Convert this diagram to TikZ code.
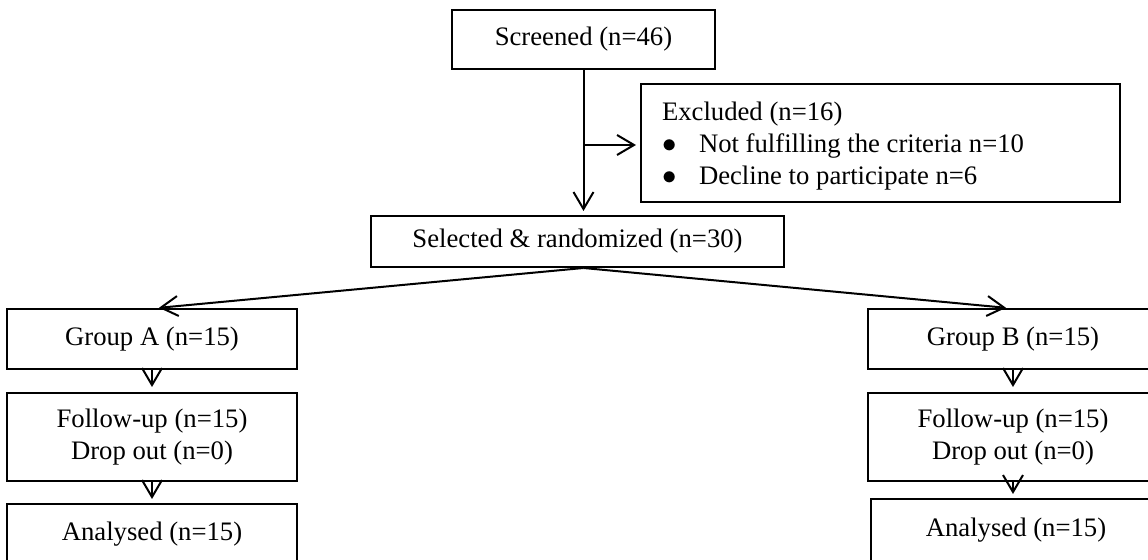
\documentclass[tikz,border=0pt]{standalone}
\usepackage{fontspec}
\setmainfont{Liberation Serif}
\usetikzlibrary{arrows.meta,calc}
\tikzset{
  box/.style={draw, line width=1pt, inner sep=0pt, align=center},
  arr/.style={line width=1pt, -{Straight Barb[length=8.5pt,width=10pt,line width=1pt]}},
}
\newcommand{\blt}{\makebox[18.5pt][l]{\hspace{0.3pt}$\bullet$}}
\begin{document}
\begin{tikzpicture}[x=0.5pt, y=-0.5pt, font=\fontsize{13.35pt}{16.2pt}\selectfont]
\useasboundingbox (0,0) rectangle (1148,560);
\clip (0,0) rectangle (1148,560);
\fill[white] (0,0) rectangle (1148,560);

\node[box, minimum width=131.5pt, minimum height=29.5pt] (scr) at (583.5,39.5) {Screened (n=46)};
\node[box, minimum height=59pt, inner xsep=10.5pt, text width=218.5pt, align=left] (exc) at (880.5,143)
  {\spaceskip=0pt\xspaceskip=0pt\relax\rule{0pt}{12.3pt}Excluded (n=16)\\
   \blt Not fulfilling the criteria n=10\\
   \blt Decline to participate n=6};
\node[box, minimum width=206.5pt, minimum height=25.5pt] (sel) at (577.5,241.5) {Selected \& randomized (n=30)};

\node[box, minimum width=145pt, minimum height=30pt] (ga) at (152,339) {Group A (n=15)};
\node[box, minimum width=145pt, minimum height=44pt] (fa) at (152,437) {Follow-up (n=15)\\Drop out (n=0)};
\node[box, minimum width=145pt, minimum height=30pt] (aa) at (152,534) {Analysed (n=15)};

\node[box, minimum width=145pt, minimum height=30pt] (gb) at (1013,339) {Group B (n=15)};
\node[box, minimum width=145pt, minimum height=44pt] (fb) at (1013,437) {Follow-up (n=15)\\Drop out (n=0)};
\node[box, minimum width=145pt, minimum height=31pt] (ab) at (1016,530) {Analysed (n=15)};

\draw[arr, shorten >=2pt] (scr.south) -- (scr.south |- sel.north);
\coordinate (br) at (583.5,145);
\draw[arr, shorten >=2pt] (br) -- (br -| exc.west);
\coordinate (apex) at (scr.south |- sel.south);
\draw[arr, shorten >=1pt] (apex) -- ($(ga.north)+(5,0)$);
\draw[arr, shorten >=1pt] (apex) -- ($(gb.north)+(-5,0)$);
\draw[arr, shorten >=2.5pt] (ga.south) -- (fa.north);
\draw[arr, shorten >=2pt] (fa.south) -- (aa.north);
\draw[arr, shorten >=2.5pt] (gb.south) -- (fb.north);
\draw[arr, shorten >=2pt] (fb.south) -- (fb.south |- ab.north);
\end{tikzpicture}
\end{document}
